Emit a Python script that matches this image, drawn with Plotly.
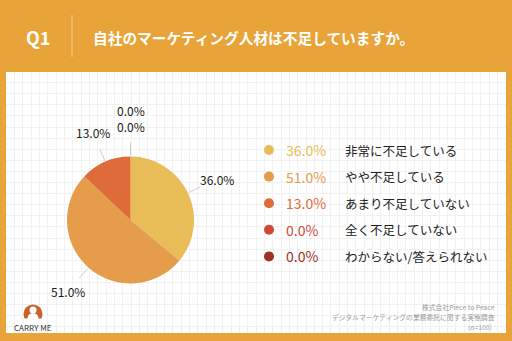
import numpy as np
import plotly.graph_objects as go

# Survey answers and their shares (%)
categories = ["非常に不足している", "やや不足している", "あまり不足していない",
              "全く不足していない", "わからない/答えられない"]
values = [36.0, 51.0, 13.0, 0.0, 0.0]
colors = ["#E8BD57", "#E59C4B", "#DE6B3A", "#D0483A", "#9C3423"]

title_text = "自社のマーケティング人材は不足していますか。"
question_no = "Q1"
source_lines = ["株式会社Piece to Peace",
                "デジタルマーケティングの業務委託に関する実態調査",
                "(n=100)"]

W, H = 512, 341
ORANGE = "#E8A438"
FONT = "Noto Sans CJK JP"

# pie geometry in pixel units
cx, cy, R = 130.5, 220.0, 63.5


def px(x):
    return x / W


def py(y):
    return 1 - y / H


fig = go.Figure()

fig.add_trace(go.Pie(
    values=values,
    labels=categories,
    marker=dict(colors=colors, line=dict(width=0)),
    sort=False,
    direction="clockwise",
    rotation=0,
    textinfo="none",
    hoverinfo="label+percent",
    showlegend=False,
    domain=dict(x=[px(cx - R), px(cx + R)], y=[py(cy + R), py(cy - R)]),
))

# legend rows: coloured dots
row_y = [150 + 26.6 * i for i in range(len(categories))]
fig.add_trace(go.Scatter(
    x=[269] * len(categories), y=row_y, mode="markers",
    marker=dict(size=10, color=colors, line=dict(width=0)),
    hoverinfo="skip", showlegend=False,
))

annotations = []
shapes = []

# legend texts
for i, (cat, v, c) in enumerate(zip(categories, values, colors)):
    annotations.append(dict(x=284, y=row_y[i], xref="x", yref="y", text=f"{v:.1f}%",
                            showarrow=False, xanchor="left", yanchor="middle",
                            font=dict(family=FONT, size=14, color=c)))
    annotations.append(dict(x=343, y=row_y[i], xref="x", yref="y", text=cat,
                            showarrow=False, xanchor="left", yanchor="middle",
                            font=dict(family=FONT, size=12.5, color="#222222")))

# pie outer labels with leader lines; slices sharing a mid-angle share one stacked label
vals = np.array(values)
cum = np.cumsum(vals)
mids = np.deg2rad((cum - vals / 2) / vals.sum() * 360)
groups = []
for v, th in zip(values, mids):
    if groups and np.isclose(groups[-1][0], th):
        groups[-1][1].append(v)
    else:
        groups.append((th, [v]))

for th, vs in groups:
    s, c = np.sin(th), np.cos(th)
    shapes.append(dict(type="line", xref="x", yref="y",
                       x0=cx + R * 1.02 * s, y0=cy - R * 1.02 * c,
                       x1=cx + R * 1.22 * s, y1=cy - R * 1.22 * c,
                       line=dict(color="#CFCFCF", width=1)))
    n = len(vs)
    text = "<br>".join(f"{v:.1f}%" for v in reversed(vs))
    annotations.append(dict(x=cx + R * 1.5 * s, y=cy - R * 1.5 * c - 6.75 * (n - 1),
                            xref="x", yref="y", text=text, showarrow=False,
                            xanchor="center", yanchor="middle",
                            font=dict(family=FONT, size=12, color="#1A1A1A")))

# header
annotations.append(dict(x=px(37.5), y=py(37), xref="paper", yref="paper", text=f"<b>{question_no}</b>",
                        showarrow=False, xanchor="center", yanchor="middle",
                        font=dict(family=FONT, size=18, color="white")))
annotations.append(dict(x=px(91), y=py(37), xref="paper", yref="paper", text=f"<b>{title_text}</b>",
                        showarrow=False, xanchor="left", yanchor="middle",
                        font=dict(family=FONT, size=14.7, color="white")))
shapes.append(dict(type="line", xref="paper", yref="paper",
                   x0=px(72), x1=px(72), y0=py(15), y1=py(57),
                   line=dict(color="#F6D189", width=1)))

# source note
for i, (line, xr) in enumerate(zip(source_lines, [497, 497, 494])):
    annotations.append(dict(x=xr, y=307 + 10.2 * i, xref="x", yref="y", text=line,
                            showarrow=False, xanchor="right", yanchor="middle",
                            font=dict(family=FONT, size=6.8, color="#9A9A9A")))

# logo
shapes += [
    dict(type="circle", xref="x", yref="y", x0=23.5, x1=42.5, y0=304.5, y1=323.5,
         fillcolor="#C8612A", line=dict(width=0), layer="above"),
    dict(type="circle", xref="x", yref="y", x0=29.5, x1=36.5, y0=306.5, y1=313.5,
         fillcolor="white", line=dict(width=0), layer="above"),
    dict(type="circle", xref="x", yref="y", x0=27.5, x1=38.5, y0=313.0, y1=324.0,
         fillcolor="white", line=dict(width=0), layer="above"),
    dict(type="rect", xref="x", yref="y", x0=22, x1=44, y0=318.5, y1=325,
         fillcolor="white", line=dict(width=0), layer="above"),
]
annotations.append(dict(x=33, y=327.5, xref="x", yref="y", text="CARRY ME", showarrow=False,
                        xanchor="center", yanchor="middle",
                        font=dict(family=FONT, size=8, color="#333333")))

fig.update_layout(
    width=W, height=H,
    margin=dict(l=0, r=0, t=0, b=0),
    paper_bgcolor=ORANGE,
    plot_bgcolor="white",
    xaxis=dict(domain=[px(6), px(506)], range=[6, 506], showgrid=True, gridcolor="#F1F1F1",
               gridwidth=1, tick0=306, dtick=8.33, showticklabels=False, zeroline=False,
               showline=False, fixedrange=True),
    yaxis=dict(domain=[py(333), py(72)], range=[333, 72], showgrid=True, gridcolor="#F1F1F1",
               gridwidth=1, tick0=93.7, dtick=11.1, showticklabels=False, zeroline=False,
               showline=False, fixedrange=True),
    shapes=shapes,
    annotations=annotations,
)

fig.write_html("out.html")
